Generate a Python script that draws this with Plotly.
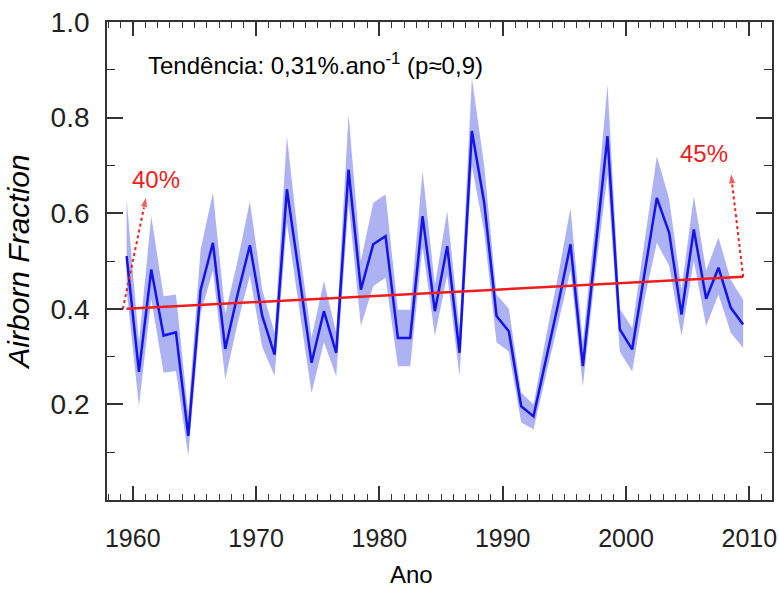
import plotly.graph_objects as go

# ---------------- data ----------------
years = list(range(1959, 2010))
airborne = [0.51, 0.268, 0.482, 0.344, 0.351, 0.134, 0.439, 0.538, 0.316, 0.43,
            0.533, 0.385, 0.304, 0.650, 0.47, 0.287, 0.395, 0.308, 0.691, 0.44,
            0.535, 0.552, 0.339, 0.339, 0.594, 0.395, 0.531, 0.308, 0.772, 0.622,
            0.385, 0.353, 0.196, 0.175, 0.293, 0.41, 0.535, 0.28, 0.52, 0.761,
            0.357, 0.315, 0.474, 0.632, 0.559, 0.388, 0.566, 0.421, 0.486, 0.402,
            0.367]
upper = [0.63, 0.33, 0.594, 0.426, 0.43, 0.18, 0.524, 0.643, 0.39, 0.50,
         0.625, 0.44, 0.35, 0.761, 0.53, 0.34, 0.458, 0.35, 0.806, 0.50,
         0.622, 0.639, 0.398, 0.398, 0.688, 0.45, 0.604, 0.36, 0.883, 0.70,
         0.43, 0.40, 0.225, 0.20, 0.34, 0.47, 0.611, 0.33, 0.58, 0.869,
         0.40, 0.36, 0.54, 0.719, 0.63, 0.44, 0.636, 0.48, 0.549, 0.46,
         0.419]
lower = [0.44, 0.196, 0.42, 0.266, 0.27, 0.092, 0.39, 0.48, 0.252, 0.37,
         0.47, 0.32, 0.26, 0.58, 0.40, 0.224, 0.33, 0.259, 0.62, 0.364,
         0.447, 0.465, 0.28, 0.28, 0.53, 0.343, 0.47, 0.259, 0.70, 0.56,
         0.33, 0.31, 0.162, 0.148, 0.26, 0.37, 0.48, 0.238, 0.47, 0.68,
         0.31, 0.269, 0.42, 0.538, 0.49, 0.343, 0.50, 0.364, 0.43, 0.35,
         0.318]
trend_years = [1959, 2009]
trend_values = [0.400, 0.467]
xtick_vals = [1960, 1970, 1980, 1990, 2000, 2010]
xtick_text = ["1960", "1970", "1980", "1990", "2000", "2010"]
ytick_vals = [0.2, 0.4, 0.6, 0.8, 1.0]
ytick_text = ["0.2", "0.4", "0.6", "0.8", "1.0"]

# annual values are plotted at mid-year
mid = [y + 0.5 for y in years]
trend_mid = [y + 0.5 for y in trend_years]

FONT = "Liberation Sans, Arial, sans-serif"
RED = "#ee1c1c"
BLUE = "#1414e6"
BAND = "#adb2f3"

fig = go.Figure()
fig.add_trace(go.Scatter(x=mid, y=lower, mode="lines", line=dict(width=0),
                         hoverinfo="skip", showlegend=False))
fig.add_trace(go.Scatter(x=mid, y=upper, mode="lines", line=dict(width=0),
                         fill="tonexty", fillcolor=BAND, hoverinfo="skip",
                         showlegend=False))
fig.add_trace(go.Scatter(x=mid, y=airborne, mode="lines",
                         line=dict(color=BLUE, width=2.5), showlegend=False))
fig.add_trace(go.Scatter(x=trend_mid, y=trend_values, mode="lines",
                         line=dict(color=RED, width=2.5), showlegend=False))

# dotted arrows pointing to the percentage labels
arrows = [
    ([trend_mid[0] - 0.3, 1961.1], [trend_values[0], 0.636]),
    ([trend_mid[1], 2008.5], [trend_values[1], 0.685]),
]
for ax, ay in arrows:
    fig.add_trace(go.Scatter(
        x=ax, y=ay, mode="lines+markers",
        line=dict(color=RED, width=2, dash="dot"),
        marker=dict(symbol=["circle", "arrow"], size=[0, 12], color=RED,
                    angleref="previous"),
        showlegend=False))

fig.add_annotation(x=1961.85, y=0.670, xref="x", yref="y", text="40%",
                   showarrow=False, font=dict(family=FONT, size=24, color=RED))
fig.add_annotation(x=2006.3, y=0.725, xref="x", yref="y", text="45%",
                   showarrow=False, font=dict(family=FONT, size=24, color=RED))
fig.add_annotation(x=1961.09, y=0.913, xref="x", yref="y",
                   text="Tendência: 0,31%.ano<sup>-1</sup> (p≈0,9)",
                   xanchor="left", yanchor="middle", showarrow=False,
                   font=dict(family=FONT, size=24, color="black"))
# x-axis title (placed slightly left of centre, as in the original)
fig.add_annotation(x=0.4586, y=-0.156, xref="paper", yref="paper", text="Ano",
                   xanchor="center", yanchor="middle", showarrow=False,
                   font=dict(family=FONT, size=24, color="black"))

axis_common = dict(showline=True, linecolor="#333333", linewidth=1.8,
                   mirror="allticks", ticks="inside", tickcolor="#333333",
                   tickwidth=1.5, showgrid=False, zeroline=False,
                   automargin=False)

fig.update_xaxes(range=[1957.91, 2011.84], tickmode="array",
                 tickvals=xtick_vals, ticktext=xtick_text, ticklen=14,
                 tickfont=dict(family=FONT, size=25, color="#222222"),
                 ticklabelstandoff=15,
                 minor=dict(dtick=1, ticks="inside", ticklen=6,
                            tickcolor="#333333", tickwidth=1.2),
                 **axis_common)
fig.update_yaxes(range=[0, 1.0], tickmode="array", tickvals=ytick_vals,
                 ticktext=ytick_text, ticklen=16,
                 tickfont=dict(family=FONT, size=28, color="#222222"),
                 ticklabelstandoff=10,
                 minor=dict(dtick=0.1, ticks="inside", ticklen=8,
                            tickcolor="#333333", tickwidth=1.2),
                 title=dict(text="<i>Airborn Fraction</i>",
                            font=dict(family=FONT, size=30, color="black"),
                            standoff=12),
                 **axis_common)

fig.update_layout(width=779, height=598,
                  margin=dict(l=107, r=7, t=22, b=98),
                  plot_bgcolor="white", paper_bgcolor="white",
                  showlegend=False)

fig.write_html("out.html")
